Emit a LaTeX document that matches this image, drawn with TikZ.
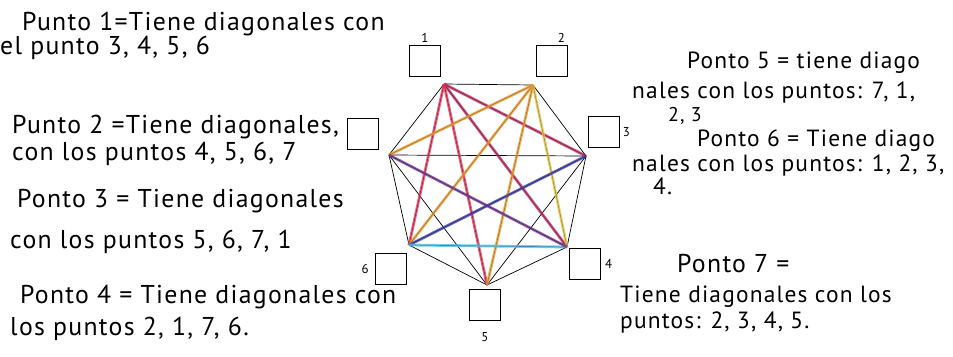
\documentclass[tikz,border=0pt]{standalone}
\usepackage{fontspec}
\setmainfont{PT Sans}[LetterSpace=5]
\usetikzlibrary{positioning}
\definecolor{granate}{RGB}{185,40,95}
\definecolor{rojo}{RGB}{225,50,85}
\definecolor{naranja}{RGB}{235,155,45}
\definecolor{amarillo}{RGB}{225,195,70}
\definecolor{azul}{RGB}{55,55,165}
\definecolor{celeste}{RGB}{70,190,225}
\definecolor{morado}{RGB}{110,50,140}

\begin{document}
\begin{tikzpicture}[
  x=0.03cm, y=-0.03cm,
  casilla/.style={draw, thick, minimum size=0.95cm, inner sep=0pt},
  numero/.style={inner sep=1pt, font=\fontsize{11}{12}\selectfont},
  nota/.style={anchor=base west, inner sep=0pt, font=\fontsize{22}{26}\selectfont},
  notader/.style={nota, font=\fontsize{20}{24}\selectfont},
  notamin/.style={nota, font=\fontsize{17}{20}\selectfont},
  lado/.style={black, line width=0.6pt},
  diag/.style={line width=2.4pt, opacity=0.75}
]
\useasboundingbox (0,0) rectangle (953,356);

% vertices of the heptagon
\coordinate (p1) at (444,84);
\coordinate (p2) at (533,85);
\coordinate (p3) at (586,156);
\coordinate (p4) at (567,247);
\coordinate (p5) at (487,285);
\coordinate (p6) at (409,245);
\coordinate (p7) at (389,155);

% boxes and their numbers
\node[casilla] (b1) at (425,61) {};
\node[casilla] (b2) at (552,61) {};
\node[casilla] (b3) at (604,132) {};
\node[casilla] (b4) at (585,264) {};
\node[casilla] (b5) at (485,305) {};
\node[casilla] (b6) at (391,269) {};
\node[casilla] (b7) at (363,134) {};
\node[numero, above=1pt of b1] (n1) {1};
\node[numero, above right=1pt and -10pt of b2] (n2) {2};
\node[numero, right=1pt of b3] (n3) {3};
\node[numero, right=2pt of b4] (n4) {4};
\node[numero, below=8pt of b5] (n5) {5};
\node[numero, left=4pt of b6] (n6) {6};

% sides and diagonals
\foreach \a/\b in {1/2,2/3,3/4,4/5,5/6,6/7,7/1,1/3,1/4,1/5,1/6,2/4,2/5,2/6,2/7,3/5,3/6,3/7,4/6,4/7,5/7}
  \draw[lado] (p\a) -- (p\b);
\foreach \a/\b/\c in {1/3/granate,1/4/granate,1/5/rojo,1/6/rojo,2/4/amarillo,2/5/naranja,2/6/naranja,2/7/naranja,3/6/azul,4/6/celeste,4/7/morado}
  \draw[diag, \c] (p\a) -- (p\b);

% notes, left
\node[nota] (t1a) at (22,30) {Punto 1=Tiene diagonales con};
\node[nota] (t1b) at (0,54) {el punto 3, 4, 5, 6};
\node[nota] (t2a) at (12,133) {Punto 2 =Tiene diagonales,};
\node[nota] (t2b) at (12,160) {con los puntos 4, 5, 6, 7};
\node[nota] (t3a) at (17,207) {Ponto 3 = Tiene diagonales};
\node[nota] (t3b) at (10,248) {con los puntos 5, 6, 7, 1};
\node[nota] (t4a) at (20,303) {Ponto 4 = Tiene diagonales con};
\node[nota] (t4b) at (10,335) {los puntos 2, 1, 7, 6.};
% notes, right
\node[notader] (t5a) at (687,68) {Ponto 5 = tiene diago};
\node[notader] (t5b) at (632,98) {nales con los puntos: 7, 1,};
\node[notamin] (t5c) at (668,121) {2, 3};
\node[notader] (t6a) at (697,146) {Ponto 6 = Tiene diago};
\node[notader] (t6b) at (632,171) {nales con los puntos: 1, 2, 3,};
\node[notader] (t6c) at (653,194) {4.};
\node[nota] (t7a) at (677,272) {Ponto 7 =};
\node[notader] (t7b) at (620,302) {Tiene diagonales con los};
\node[notader] (t7c) at (620,328) {puntos: 2, 3, 4, 5.};
\end{tikzpicture}
\end{document}
